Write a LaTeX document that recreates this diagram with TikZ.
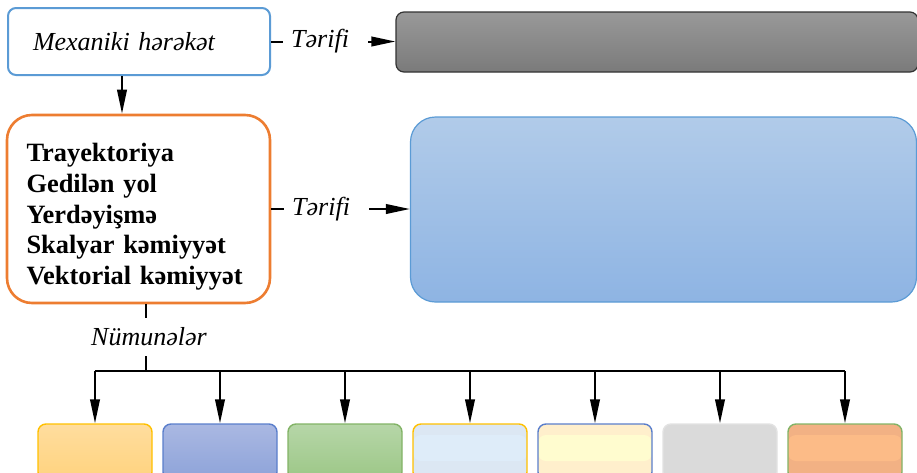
\documentclass[tikz,border=0pt]{standalone}
\usepackage{fontspec}
\setmainfont{Liberation Serif}
\usetikzlibrary{arrows.meta, positioning, calc}

\definecolor{blueline}{HTML}{5B9BD5}
\definecolor{orangeline}{HTML}{ED7D31}
\definecolor{goldline}{HTML}{FFC000}
\definecolor{indigoline}{HTML}{5A7ECB}
\definecolor{greenline}{HTML}{82B366}
\definecolor{greyline}{HTML}{E2E2E2}
\definecolor{skytop}{HTML}{B1CBE9}
\definecolor{skybot}{HTML}{8EB4E3}
\definecolor{amberA}{HTML}{FFDD9E}
\definecolor{amberB}{HTML}{FFD37E}
\definecolor{indigoA}{HTML}{AAB8E2}
\definecolor{indigoB}{HTML}{8DA3D9}
\definecolor{leafA}{HTML}{B6D6A8}
\definecolor{leafB}{HTML}{9CC786}
\definecolor{iceA}{HTML}{DCE7F3}
\definecolor{iceB}{HTML}{DEECF9}
\definecolor{creamA}{HTML}{FFEFCC}
\definecolor{creamB}{HTML}{FFFCCF}
\definecolor{ashfill}{HTML}{DADADA}
\definecolor{peachA}{HTML}{F2B184}
\definecolor{peachB}{HTML}{FCBB87}

\begin{document}
\begin{tikzpicture}[
      x=0.5pt, y=-0.5pt,
      >={Triangle[length=12pt,width=4.8pt]},
      arr/.style={->, line width=1pt},
      link/.style={line width=1pt},
      topic/.style={draw=blueline, line width=1pt, rounded corners=4pt,
                    text width=106pt, inner xsep=12.5pt, minimum height=33.5pt,
                    align=left, font=\itshape\fontsize{13}{15}\selectfont},
      terms/.style={draw=orangeline, line width=1.3pt, rounded corners=12.5pt,
                    text width=112pt, inner xsep=9.75pt, minimum height=94pt,
                    align=left, font=\bfseries\fontsize{13.2}{15.3}\selectfont},
      defbox/.style={line width=0.6pt, inner sep=0pt},
      defn/.style={fill=white, text width=34.5pt, inner xsep=4pt, inner ysep=1pt,
                   align=left, font=\itshape\fontsize{13}{15}\selectfont},
      lbl/.style={fill=white, inner xsep=2pt, inner ysep=5pt,
                  font=\itshape\fontsize{13}{15}\selectfont},
      exbox/.style={draw, line width=0.7pt, rounded corners=4pt, inner sep=0pt,
                    minimum width=57pt, minimum height=28pt},
      stripe/.style 2 args={fill=#1, path picture={
          \fill[#2] ([yshift=-5.5pt]path picture bounding box.north west)
                    rectangle ([yshift=9.5pt]path picture bounding box.south east);}},
      ex1/.style={draw=goldline, top color=amberA, bottom color=amberB},
      ex2/.style={draw=indigoline, top color=indigoA, bottom color=indigoB},
      ex3/.style={draw=greenline, top color=leafA, bottom color=leafB},
      ex4/.style={draw=goldline, stripe={iceA}{iceB}},
      ex5/.style={draw=indigoline, stripe={creamA}{creamB}},
      ex6/.style={draw=greyline, fill=ashfill},
      ex7/.style={draw=greenline, stripe={peachA}{peachB}}
    ]
      \useasboundingbox (0,0) rectangle (917,472);
      % concept and its terms
      \node[topic] (mex) at (139,41.5) {Mexaniki hərəkət};
      \node[terms] (terms) at (138.5,209) {\rule{0pt}{17pt}Trayektoriya\\Gedilən yol\\Yerdəyişmə\\Skalyar kəmiyyət\\Vektorial kəmiyyət};
      % definition boxes
      \node[defbox, draw=black!80, rounded corners=4pt, top color=black!40, bottom color=black!52,
            minimum width=261pt, minimum height=30pt] (tdef) at (657,42) {};
      \node[defbox, draw=blueline, rounded corners=12.5pt, top color=skytop, bottom color=skybot,
            minimum width=253pt, minimum height=92.5pt] (sdef) at (663.5,209.5) {};
      % example boxes
      \foreach \i in {1,...,7}
        \node[exbox, ex\i] (ex\i) at ({95+125*(\i-1)},452) {};
      \draw[arr] (mex.east) -- node[defn, pos=0.44] {Tərifi} (mex.east -| tdef.west);
      \draw[arr] (terms.east) -- node[defn, pos=0.4] {Tərifi} (terms.east -| sdef.west);
      \draw[arr] ([xshift=-8.5pt]mex.south) -- ([xshift=-8.5pt]mex.south |- terms.north);
      \coordinate (bus) at (146,371);
      \draw[link] (bus |- terms.south) -- node[lbl, pos=0.49, xshift=1.5pt] {Nümunələr} (bus);
      \draw[link] (ex1.north |- bus) -- (ex7.north |- bus);
      \foreach \i in {1,...,7}
        \draw[arr] (ex\i.north |- bus) -- (ex\i.north);
    \end{tikzpicture}
\end{document}
